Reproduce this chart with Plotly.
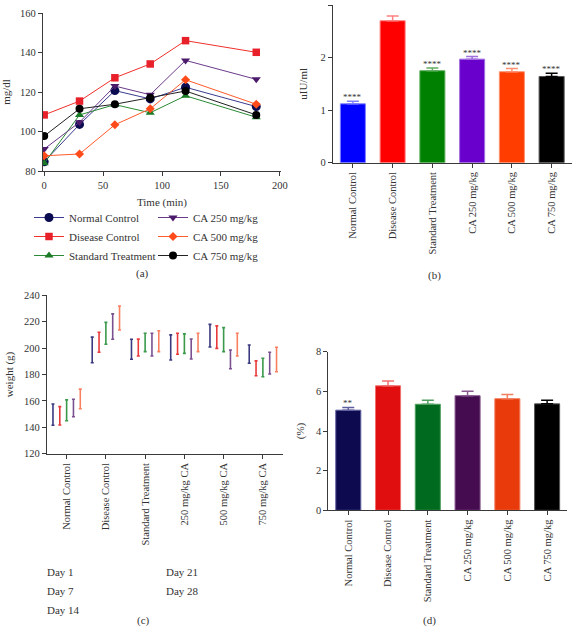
import plotly.graph_objects as go

W, H = 572, 628
FONT = "Liberation Serif, 'Times New Roman', serif"
AXC = "#3a3a3a"
TXT = "#333333"

# ---------------- Panel (a): blood glucose over time ----------------
time_min = [0, 30, 60, 90, 120, 180]
glu_normal = [84.7, 103.6, 120.7, 116.5, 122.4, 112.6]
glu_disease = [108.4, 115.4, 127.2, 134.2, 146.0, 140.1]
glu_standard = [83.9, 108.4, 113.6, 109.5, 118.1, 107.2]
glu_ca250 = [91.1, 104.7, 123.0, 118.6, 136.0, 126.4]
glu_ca500 = [87.7, 88.6, 103.4, 111.5, 126.2, 113.8]
glu_ca750 = [97.7, 111.5, 113.8, 117.1, 120.5, 108.4]
series_a_names = ["Normal Control", "Disease Control", "Standard Treatment",
                  "CA 250 mg/kg", "CA 500 mg/kg", "CA 750 mg/kg"]

# ---------------- Panel (b): insulin ----------------
groups_b = ["Normal Control", "Disease Control", "Standard Treatment",
            "CA 250 mg/kg", "CA 500 mg/kg", "CA 750 mg/kg"]
insulin_mean = [1.12, 2.70, 1.75, 1.97, 1.73, 1.64]
insulin_err = [0.05, 0.09, 0.05, 0.05, 0.06, 0.06]
insulin_sig = ["****", "", "****", "****", "****", "****"]

# ---------------- Panel (c): body weight ----------------
groups_c = ["Normal Control", "Disease Control", "Standard Treatment",
            "250 mg/kg CA", "500 mg/kg CA", "750 mg/kg CA"]
day_names = ["Day 1", "Day 7", "Day 14", "Day 21", "Day 28"]
w_day1_mean = [149.6, 198.6, 199.1, 200.5, 209.4, 195.4]
w_day1_sd = [8.1, 9.7, 7.6, 9.5, 8.6, 6.9]
w_day7_mean = [148.7, 204.4, 200.4, 203.3, 208.3, 184.7]
w_day7_sd = [7.0, 7.6, 6.4, 8.0, 8.5, 5.6]
w_day14_mean = [152.9, 211.2, 204.3, 203.4, 206.4, 185.3]
w_day14_sd = [7.9, 8.3, 7.0, 7.4, 9.1, 7.0]
w_day21_mean = [154.6, 216.3, 202.6, 199.3, 191.5, 188.6]
w_day21_sd = [6.6, 9.6, 8.6, 7.6, 7.1, 8.2]
w_day28_mean = [161.5, 222.8, 205.2, 204.3, 202.6, 191.4]
w_day28_sd = [7.4, 9.1, 7.9, 7.0, 8.6, 9.3]

# ---------------- Panel (d): percentage ----------------
groups_d = ["Normal Control", "Disease Control", "Standard Treatment",
            "CA 250 mg/kg", "CA 500 mg/kg", "CA 750 mg/kg"]
pct_mean = [5.05, 6.28, 5.35, 5.78, 5.63, 5.37]
pct_err = [0.14, 0.24, 0.20, 0.22, 0.21, 0.18]
pct_sig = ["**", "", "", "", "", ""]

# ---------------- styles ----------------
a_line_colors = ["#3b3b8f", "#f0302a", "#2a8a35", "#6a3a8a", "#ff5a2a", "#222222"]
a_marker_colors = ["#0b0b52", "#e8202a", "#1a7a25", "#4b1a6b", "#ff4a1a", "#000000"]
a_symbols = ["circle", "square", "triangle-up", "triangle-down", "diamond", "circle"]
a_sizes = [9, 7.5, 8, 8, 7, 8]
b_colors = ["#0000ff", "#ff0000", "#008000", "#6a00cc", "#ff3d00", "#000000"]
b_edges = ["#8080ff", "#ff8080", "#60b060", "#a070e0", "#ff9070", "#555555"]
c_colors = ["#3a3a80", "#e83a3a", "#3a9a4a", "#7a5090", "#f88060"]
d_colors = ["#0d0a4f", "#e00e0e", "#006b1e", "#450c4f", "#e83a0a", "#000000"]
d_edges = ["#6060a0", "#f07070", "#50a060", "#8a5a90", "#f08060", "#555555"]


def px_x(p):
    return p / W


def px_y(p):
    return 1 - p / H


fig = go.Figure()

# Panel (a)
glu_series = [glu_normal, glu_disease, glu_standard, glu_ca250, glu_ca500, glu_ca750]
legend_of_a = ["legend", "legend", "legend", "legend2", "legend2", "legend2"]
for i, (name, ys) in enumerate(zip(series_a_names, glu_series)):
    fig.add_trace(go.Scatter(
        x=time_min, y=ys, name=name, mode="lines+markers",
        line=dict(color=a_line_colors[i], width=1),
        marker=dict(symbol=a_symbols[i], size=a_sizes[i], color=a_marker_colors[i]),
        xaxis="x", yaxis="y", legend=legend_of_a[i],
    ))

# Panel (b)
for i, g in enumerate(groups_b):
    fig.add_trace(go.Bar(
        x=[g], y=[insulin_mean[i]], width=0.63, offsetgroup="b",
        marker=dict(color=b_colors[i], line=dict(color=b_edges[i], width=1)),
        error_y=dict(type="data", array=[insulin_err[i]], arrayminus=[0], symmetric=False,
                     color=b_edges[i] if i != 5 else "#000000", thickness=1.5, width=6),
        xaxis="x2", yaxis="y2", showlegend=False,
    ))
    if insulin_sig[i]:
        fig.add_annotation(x=g, y=insulin_mean[i] + insulin_err[i], xref="x2", yref="y2",
                           text=insulin_sig[i], showarrow=False, yanchor="bottom", yshift=-3,
                           font=dict(family=FONT, size=9, color=TXT))

# Panel (c)
c_means = [w_day1_mean, w_day7_mean, w_day14_mean, w_day21_mean, w_day28_mean]
c_sds = [w_day1_sd, w_day7_sd, w_day14_sd, w_day21_sd, w_day28_sd]
legend_of_c = ["legend3", "legend3", "legend3", "legend4", "legend4"]
for j, day in enumerate(day_names):
    fig.add_trace(go.Bar(
        x=groups_c, y=c_means[j], name=day,
        marker=dict(color="rgba(0,0,0,0)", line=dict(width=0)),
        error_y=dict(type="data", array=c_sds[j], color=c_colors[j], thickness=1.6, width=1.5),
        xaxis="x3", yaxis="y3", legend=legend_of_c[j],
    ))

# Panel (d)
for i, g in enumerate(groups_d):
    fig.add_trace(go.Bar(
        x=[g], y=[pct_mean[i]], width=0.63, offsetgroup="d",
        marker=dict(color=d_colors[i], line=dict(color=d_edges[i], width=1)),
        error_y=dict(type="data", array=[pct_err[i]], arrayminus=[0], symmetric=False,
                     color=d_edges[i] if i != 5 else "#000000", thickness=1.5, width=6),
        xaxis="x4", yaxis="y4", showlegend=False,
    ))
    if pct_sig[i]:
        fig.add_annotation(x=g, y=pct_mean[i] + pct_err[i], xref="x4", yref="y4",
                           text=pct_sig[i], showarrow=False, yanchor="bottom", yshift=-3,
                           font=dict(family=FONT, size=9, color=TXT))

tickfont = dict(family=FONT, size=10.5, color=TXT)
axis_common = dict(showgrid=False, zeroline=False, showline=True, linecolor=AXC, linewidth=1.2,
                   ticks="outside", ticklen=4, tickwidth=1.2, tickcolor=AXC, tickfont=tickfont,
                   automargin=False)
title_font = dict(family=FONT, size=11, color=TXT)

fig.update_layout(
    template="none",
    width=W, height=H, margin=dict(l=0, r=0, t=0, b=0, autoexpand=False),
    paper_bgcolor="white", plot_bgcolor="white",
    font=dict(family=FONT, size=11, color=TXT),
    barmode="group", bargap=0.13, bargroupgap=0,
    xaxis=dict(domain=[px_x(43), px_x(281)], range=[-1, 201], tickvals=[0, 50, 100, 150, 200],
               title=dict(text="Time (min)", font=title_font, standoff=8), anchor="y", **axis_common),
    yaxis=dict(domain=[px_y(171), px_y(13)], range=[80, 160], dtick=20,
               title=dict(text="mg/dl", font=title_font, standoff=7), anchor="x", **axis_common),
    xaxis2=dict(domain=[px_x(333), px_x(571.5)], range=[-0.5, 5.5], type="category",
                tickangle=-90, anchor="y2", **axis_common),
    yaxis2=dict(domain=[px_y(162.7), px_y(5)], range=[0, 3], dtick=1,
                title=dict(text="uIU/ml", font=title_font, standoff=10), anchor="x2", **axis_common),
    xaxis3=dict(domain=[px_x(47), px_x(282.5)], range=[-0.5, 5.5], type="category",
                tickangle=-90, anchor="y3", **axis_common),
    yaxis3=dict(domain=[px_y(453.7), px_y(295.3)], range=[120, 240], dtick=20,
                title=dict(text="weight (g)", font=title_font, standoff=8), anchor="x3", **axis_common),
    xaxis4=dict(domain=[px_x(328.4), px_x(567)], range=[-0.5, 5.5], type="category",
                tickangle=-90, anchor="y4", **axis_common),
    yaxis4=dict(domain=[px_y(510.3), px_y(351.7)], range=[0, 8], dtick=2,
                title=dict(text="(%)", font=title_font, standoff=9), anchor="x4", **axis_common),
)

legend_common = dict(xanchor="left", yanchor="top", bgcolor="rgba(0,0,0,0)",
                     font=dict(family=FONT, size=11, color=TXT), tracegroupgap=0,
                     orientation="v")
fig.update_layout(
    legend=dict(x=px_x(29), y=px_y(203), **legend_common),
    legend2=dict(x=px_x(153), y=px_y(203), **legend_common),
    legend3=dict(x=px_x(7), y=px_y(557), **legend_common),
    legend4=dict(x=px_x(126), y=px_y(557), **legend_common),
)

caption_font = dict(family=FONT, size=11, color=TXT)
for text, cx, cy in [("(a)", 142, 273), ("(b)", 434, 275), ("(c)", 143, 620), ("(d)", 429, 620)]:
    fig.add_annotation(x=px_x(cx), y=px_y(cy), xref="paper", yref="paper", text=text,
                       showarrow=False, xanchor="center", yanchor="middle", font=caption_font)

fig.write_html("out.html", config={"displayModeBar": False},
               post_script="document.body.style.margin='0';")
